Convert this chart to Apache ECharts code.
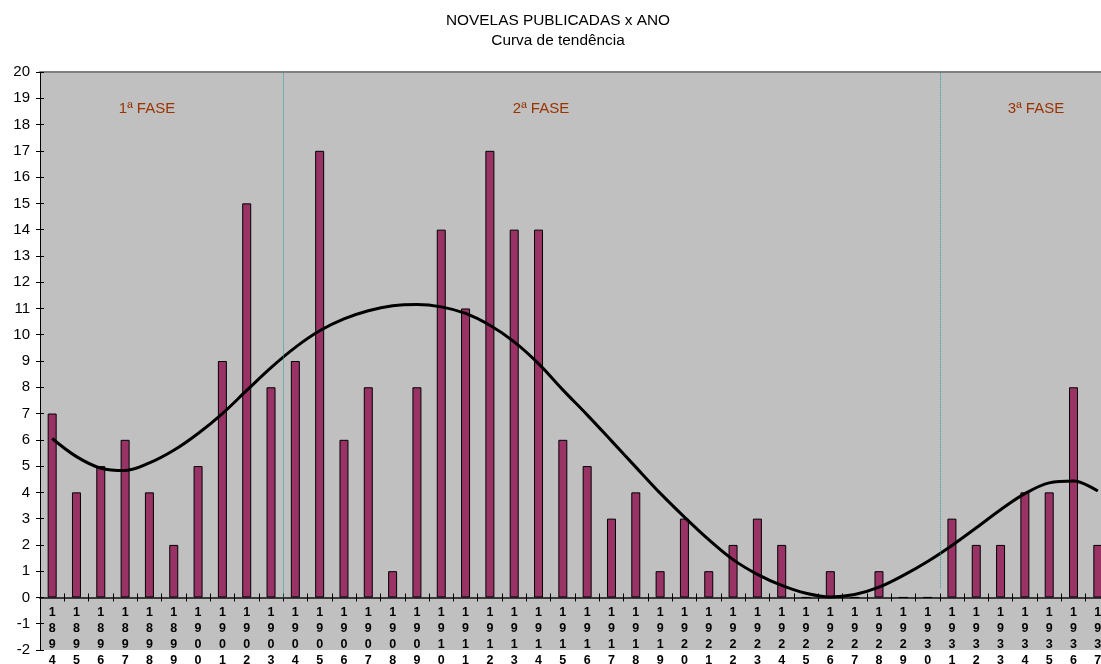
<!DOCTYPE html>
<html>
<head>
<meta charset="utf-8">
<title>NOVELAS PUBLICADAS x ANO</title>
<script src="https://cdn.jsdelivr.net/npm/echarts@6/dist/echarts.min.js"></script>
<style>
  html, body { margin: 0; padding: 0; background: #fff; }
  #chart { width: 1101px; height: 664px; }
</style>
</head>
<body>
<div id="chart"></div>
<script>
// Years on the horizontal axis
const years = [
  '1894','1895','1896','1897','1898','1899','1900','1901','1902','1903',
  '1904','1905','1906','1907','1908','1909','1910','1911','1912','1913',
  '1914','1915','1916','1917','1918','1919','1920','1921','1922','1923',
  '1924','1925','1926','1927','1928','1929','1930','1931','1932','1933',
  '1934','1935','1936','1937'
];

// Novels published per year
const novels = [
  7, 4, 5, 6, 4, 2, 5, 9, 15, 8,
  9, 17, 6, 8, 1, 8, 14, 11, 17, 14,
  14, 6, 5, 3, 4, 1, 3, 1, 2, 3,
  2, 0, 1, 0, 1, 0, 0, 3, 2, 2,
  4, 4, 8, 2
];

// Trend curve, one value per year
const trend = [
  6.05, 5.36, 4.92, 4.83, 5.12, 5.60, 6.24, 7.00, 7.88, 8.75,
  9.52, 10.15, 10.60, 10.91, 11.10, 11.15, 11.06, 10.81, 10.36, 9.73,
  8.90, 7.90, 6.95, 5.96, 4.96, 3.97, 3.06, 2.20, 1.44, 0.88,
  0.46, 0.16, 0.02, 0.11, 0.39, 0.84, 1.37, 1.98, 2.65, 3.34,
  3.95, 4.36, 4.43, 4.05
];

// Phase boundaries, counted in years from the first one
const phaseBreaks = [10, 37];
const phaseNames = ['1ª FASE', '2ª FASE', '3ª FASE'];

// Value axis ticks
const yMin = -2, yMax = 20, yStep = 1;

const FONT = '"Liberation Sans", Arial, sans-serif';
const chart = echarts.init(document.getElementById('chart'), null, { renderer: 'canvas' });

const option = {
  animation: false,
  backgroundColor: '#ffffff',
  grid: {
    left: 40, top: 72, width: 1070, bottom: 14,
    outerBoundsMode: 'none',
    containLabel: false,
    show: true, backgroundColor: '#c0c0c0', borderWidth: 0
  },
  graphic: [
    { type: 'text', x: 558, y: 13, style: { text: 'NOVELAS PUBLICADAS x ANO', align: 'center', font: '15.4px ' + FONT, fill: '#000' } },
    { type: 'text', x: 558, y: 33, style: { text: 'Curva de tendência', align: 'center', font: '15.4px ' + FONT, fill: '#000' } },
    { type: 'text', x: 147, y: 101, style: { text: phaseNames[0], align: 'center', font: '15px ' + FONT, fill: '#993300' } },
    { type: 'text', x: 541, y: 101, style: { text: phaseNames[1], align: 'center', font: '15px ' + FONT, fill: '#993300' } },
    { type: 'text', x: 1036, y: 101, style: { text: phaseNames[2], align: 'center', font: '15px ' + FONT, fill: '#993300' } }
  ],
  xAxis: [
    {
      type: 'category',
      data: years,
      boundaryGap: true,
      axisLine: { onZero: true, lineStyle: { color: '#3a3a3a', width: 2 } },
      axisTick: { show: true, interval: 0, length: 4, lineStyle: { color: '#000' } },
      axisLabel: {
        interval: 0,
        margin: -45,
        color: '#000',
        fontFamily: FONT,
        fontSize: 12.5,
        fontWeight: 'bold',
        lineHeight: 16,
        formatter: v => v.split('').join('\n')
      },
      splitLine: { show: false }
    },
    {
      // plain year scale used to place the phase dividers and the top edge
      type: 'value',
      position: 'top',
      min: 0, max: years.length,
      axisLine: { show: true, onZero: false, lineStyle: { color: '#808080', width: 2 } },
      axisTick: { show: false },
      axisLabel: { show: false },
      splitLine: { show: false }
    },
    {
      // inner half of the year ticks
      type: 'category',
      data: years,
      boundaryGap: true,
      position: 'bottom',
      axisLine: { show: false, onZero: true },
      axisTick: { show: true, inside: true, interval: 0, length: 4, lineStyle: { color: '#000' } },
      axisLabel: { show: false },
      splitLine: { show: false }
    }
  ],
  yAxis: [
    {
      type: 'value',
      min: yMin, max: yMax, interval: yStep,
      axisLine: { show: true, lineStyle: { color: '#000', width: 1 } },
      axisTick: { show: true, length: 4, lineStyle: { color: '#000' } },
      axisLabel: { color: '#000', fontFamily: FONT, fontSize: 15, margin: 10 },
      splitLine: { show: false }
    },
    {
      type: 'value',
      position: 'left',
      min: yMin, max: yMax, interval: yStep,
      axisLine: { show: false },
      axisTick: { show: true, inside: true, length: 4, lineStyle: { color: '#000' } },
      axisLabel: { show: false },
      splitLine: { show: false }
    }
  ],
  series: [
    {
      name: 'Novelas',
      type: 'bar',
      data: novels,
      barWidth: 9,
      itemStyle: { color: '#993366', borderColor: '#000', borderWidth: 1 },
      z: 2
    },
    {
      name: 'Tendência',
      type: 'line',
      data: trend,
      smooth: 0.35,
      symbol: 'none',
      lineStyle: { color: '#000', width: 3 },
      z: 3
    },
    {
      name: 'Fases',
      type: 'scatter',
      xAxisIndex: 1,
      yAxisIndex: 0,
      data: [],
      silent: true,
      markLine: {
        silent: true,
        symbol: 'none',
        label: { show: false },
        lineStyle: { color: '#2a9d9d', type: 'dotted', width: 1, opacity: 1 },
        data: [
          [{ coord: [phaseBreaks[0], 0] }, { coord: [phaseBreaks[0], yMax] }],
          [{ coord: [phaseBreaks[1], 0.35] }, { coord: [phaseBreaks[1], yMax] }]
        ]
      },
      z: 1
    }
  ]
};

chart.setOption(option);
</script>
</body>
</html>
